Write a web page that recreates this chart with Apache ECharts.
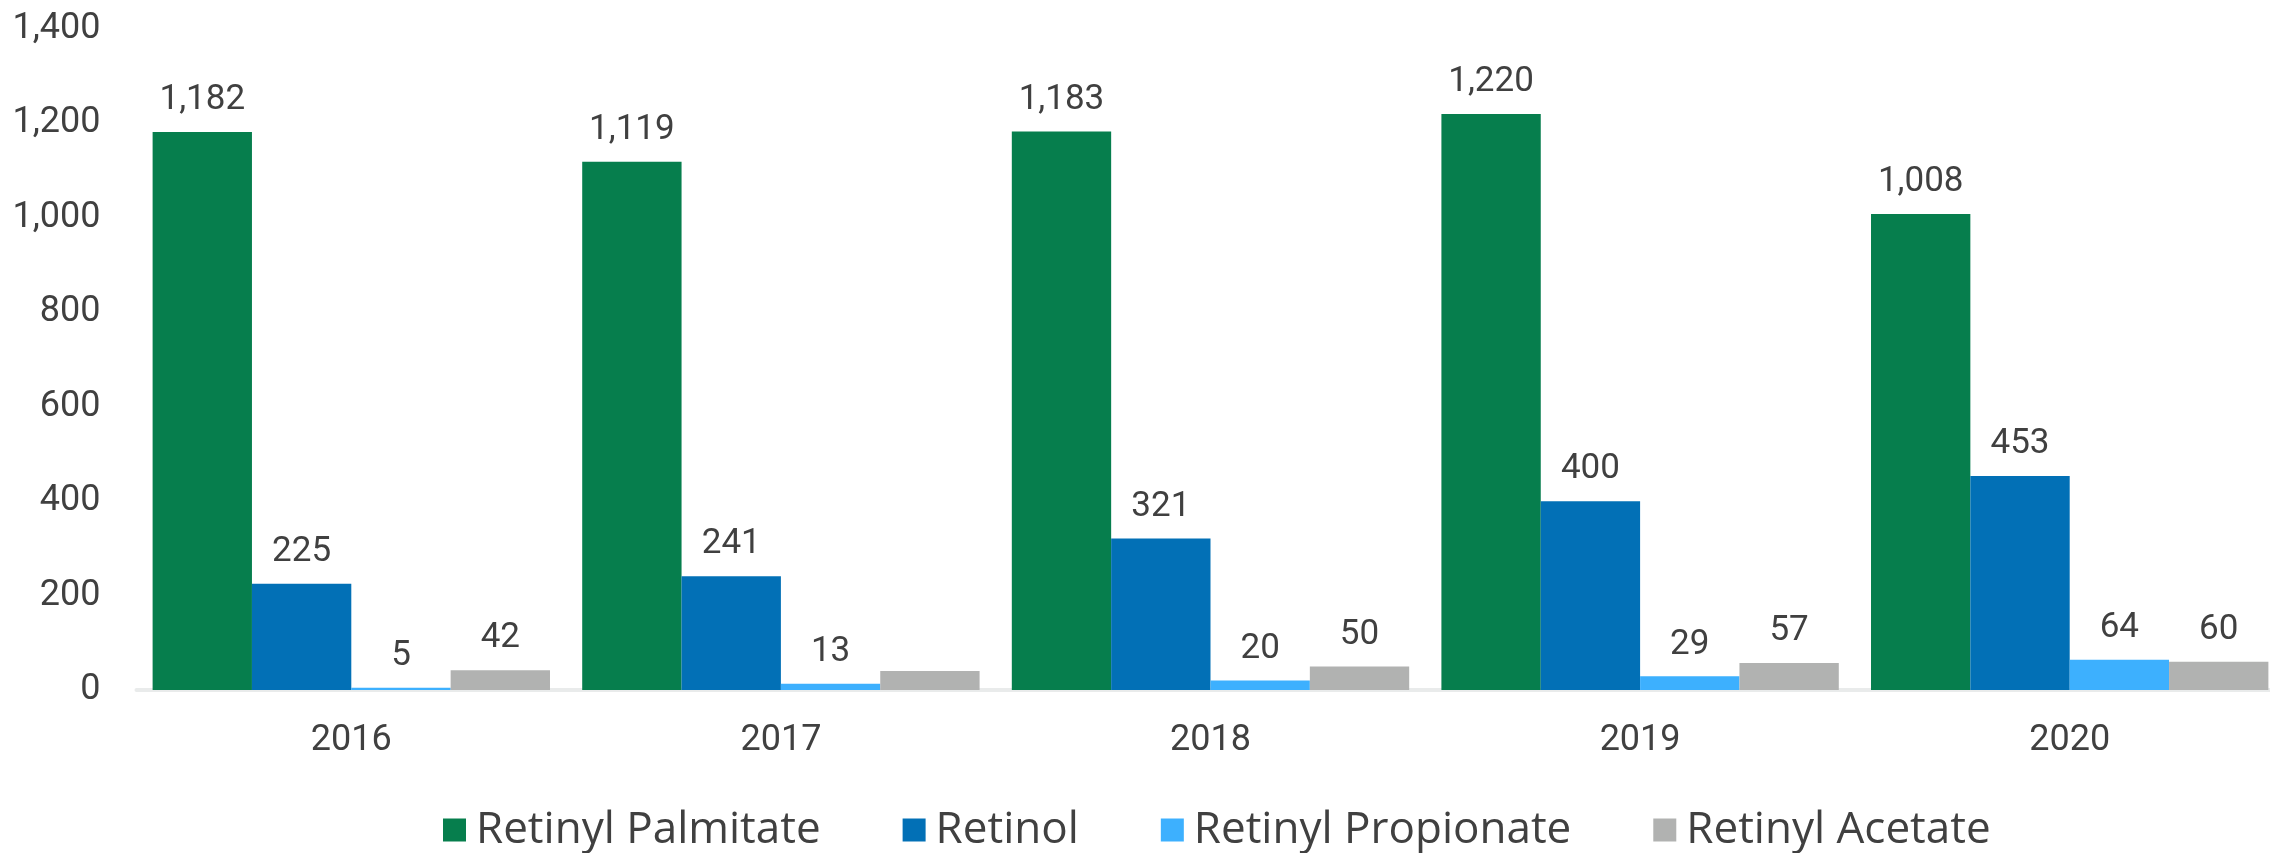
<!DOCTYPE html>
<html>
<head>
<meta charset="utf-8">
<script src="https://cdn.jsdelivr.net/npm/echarts@6/dist/echarts.min.js"></script>
<style>
  html, body { margin: 0; padding: 0; background: #fff; }
  #chart { width: 2270px; height: 853px; }
</style>
</head>
<body>
<div id="chart"></div>
<script>
var years = ['2016', '2017', '2018', '2019', '2020'];
var palmitate = [1182, 1119, 1183, 1220, 1008];
var retinol = [225, 241, 321, 400, 453];
var propionate = [5, 13, 20, 29, 64];
var acetate = [42, 40, 50, 57, 60];
// the source leaves this one bar without a value label
var noLabel = { 'Retinyl Acetate': ['2017'] };

var textColor = '#404040';
var font = 'Roboto, sans-serif';

function makeSeries(name, values, color) {
    var skip = noLabel[name] || [];
    return {
        name: name,
        type: 'bar',
        barGap: 0,
        barCategoryGap: '7.5%',
        itemStyle: { color: color },
        label: {
            show: true,
            position: 'top',
            distance: 14,
            color: textColor,
            fontSize: 35,
            fontFamily: font,
            formatter: function (p) { return p.value.toLocaleString('en-US'); }
        },
        data: values.map(function (v, i) {
            return skip.indexOf(years[i]) >= 0 ? { value: v, label: { show: false } } : v;
        })
    };
}

var myChart = echarts.init(document.getElementById('chart'));
myChart.setOption({
    animation: false,
    textStyle: { fontFamily: font },
    grid: {
        left: 136.5, top: 29, width: 2148, height: 661,
        containLabel: false, outerBoundsMode: 'none'
    },
    legend: {
        left: 443,
        top: 808,
        icon: 'rect',
        itemWidth: 23,
        itemHeight: 23,
        itemGap: 82,
        padding: 0,
        textStyle: { color: textColor, fontSize: 44, fontFamily: '"Open Sans", sans-serif', padding: [0, 0, 0, 5] },
        data: ['Retinyl Palmitate', 'Retinol', 'Retinyl Propionate', 'Retinyl Acetate']
    },
    xAxis: {
        type: 'category',
        data: years,
        axisTick: { show: false },
        axisLine: { show: true, lineStyle: { color: '#e9ebeb', width: 4 } },
        axisLabel: { color: textColor, fontSize: 36, margin: 33, fontFamily: font }
    },
    yAxis: {
        type: 'value',
        min: 0,
        max: 1400,
        interval: 200,
        splitLine: { show: false },
        axisLine: { show: false },
        axisTick: { show: false },
        axisLabel: {
            color: textColor, fontSize: 36, margin: 36, fontFamily: font,
            formatter: function (v) { return v.toLocaleString('en-US'); }
        }
    },
    series: [
        makeSeries('Retinyl Palmitate', palmitate, '#067e4d'),
        makeSeries('Retinol', retinol, '#0270b6'),
        makeSeries('Retinyl Propionate', propionate, '#3db0fe'),
        makeSeries('Retinyl Acetate', acetate, '#b1b2b1')
    ]
});
</script>
</body>
</html>
